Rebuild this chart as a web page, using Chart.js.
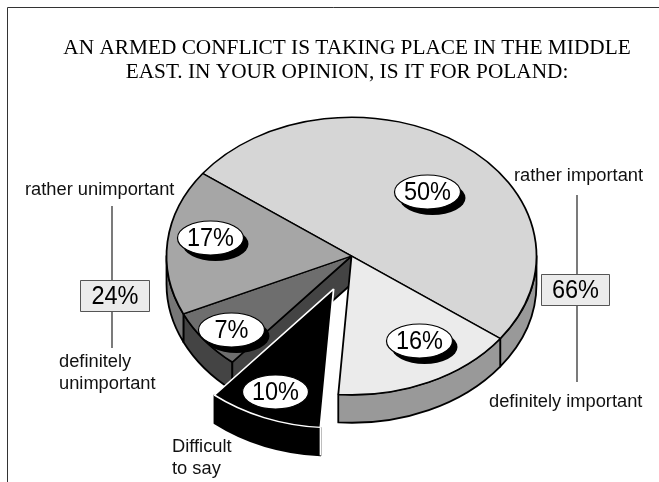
<!DOCTYPE html>
<html><head><meta charset="utf-8">
<style>html,body{margin:0;padding:0;background:#fff}canvas{display:block}</style>
<script src="https://cdn.jsdelivr.net/npm/chart.js@4"></script>
</head><body><canvas id="c" width="659" height="482"></canvas>
<script>
const categories = ["rather important","definitely important","Difficult to say","definitely unimportant","rather unimportant"];
const values = [50,16,10,7,17];
const topColors = ["#d6d6d6","#ebebeb","#000000","#6e6e6e","#a6a6a6"];
const wallColors = ["#999999","#999999","#000000","#444444","#777777"];
const borderColors = ["#000","#000","#fff","#000","#000"];
const groupTotals = [24,66];
const titleLines = ["AN ARMED CONFLICT IS TAKING PLACE IN THE MIDDLE","EAST. IN YOUR OPINION, IS IT FOR POLAND:"];

const SQUASH = 0.75, DEPTH = 28, EXPLODED = 2, EXPLODE_DIST = 47.5;

// label placement, as offsets from the pie centre
const bubbles = [[76,-64],[68,85],[-76,136],[-120,74],[-141,-18]];

function explodeShift(el,i){
  if(i!==EXPLODED) return [0,0];
  const m=(el.startAngle+el.endAngle)/2;
  return [Math.cos(m)*EXPLODE_DIST, Math.sin(m)*EXPLODE_DIST*SQUASH];
}
function drawWall(ctx,el,i){
  const s=Math.max(el.startAngle,0), e=Math.min(el.endAngle,Math.PI);
  if(e<=s) return;
  const [tx,ty]=explodeShift(el,i), cx=el.x+tx, cy=el.y+ty, r=el.outerRadius;
  ctx.beginPath();
  ctx.ellipse(cx,cy,r,r*SQUASH,0,s,e);
  ctx.ellipse(cx,cy+DEPTH,r,r*SQUASH,0,e,s,true);
  ctx.closePath();
  ctx.fillStyle=wallColors[i]; ctx.fill();
  ctx.strokeStyle="#000"; ctx.lineWidth=1.8; ctx.lineJoin="round"; ctx.stroke();
}
function drawCutFace(ctx,el,i){
  // the face left bare by the pulled-out slice
  const a=el.startAngle, r=el.outerRadius;
  const ax=el.x+Math.cos(a)*r, ay=el.y+Math.sin(a)*r*SQUASH;
  ctx.beginPath();
  ctx.moveTo(el.x,el.y); ctx.lineTo(ax,ay); ctx.lineTo(ax,ay+DEPTH); ctx.lineTo(el.x,el.y+DEPTH); ctx.closePath();
  ctx.fillStyle=wallColors[i]; ctx.fill();
  ctx.strokeStyle="#000"; ctx.lineWidth=1.8; ctx.stroke();
}
function drawTop(ctx,el,i){
  const [tx,ty]=explodeShift(el,i);
  ctx.save();
  ctx.translate(el.x+tx,el.y+ty); ctx.scale(1,SQUASH); ctx.translate(-el.x,-el.y);
  el.draw(ctx);
  ctx.restore();
}
function percentText(ctx,text,x,y){
  ctx.save();
  ctx.translate(x,y); ctx.scale(0.93,1);
  ctx.fillStyle="#000"; ctx.font='25.3px "Liberation Sans"'; ctx.textAlign="center";
  ctx.fillText(text,0,0);
  ctx.restore();
}
const pie3d = {
  id:"pie3d",
  beforeDatasetDraw(chart){
    const ctx=chart.ctx, arcs=chart.getDatasetMeta(0).data;
    const rest=arcs.map((a,i)=>i).filter(i=>i!==EXPLODED);
    rest.forEach(i=>drawWall(ctx,arcs[i],i));
    drawCutFace(ctx,arcs[EXPLODED+1],EXPLODED+1);
    rest.forEach(i=>drawTop(ctx,arcs[i],i));
    const el=arcs[EXPLODED];
    drawWall(ctx,el,EXPLODED);
    const [tx,ty]=explodeShift(el,EXPLODED), r=el.outerRadius;
    const ex=el.x+tx+Math.cos(el.startAngle)*r, ey=el.y+ty+Math.sin(el.startAngle)*r*SQUASH;
    ctx.strokeStyle="#fff"; ctx.lineWidth=1.5;
    ctx.beginPath(); ctx.moveTo(ex,ey); ctx.lineTo(ex,ey+DEPTH); ctx.stroke();
    drawTop(ctx,el,EXPLODED);
    return false;
  },
  afterDraw(chart){
    const ctx=chart.ctx, el=chart.getDatasetMeta(0).data[0];
    ctx.save();
    ctx.textBaseline="middle"; ctx.fillStyle="#000";
    // title
    ctx.font='21.3px "Liberation Serif"'; ctx.textAlign="center";
    ctx.fillText(titleLines[0],347,48);
    ctx.fillText(titleLines[1],347,72);
    // frame
    ctx.strokeStyle="#333"; ctx.lineWidth=1;
    ctx.beginPath(); ctx.moveTo(7.5,482); ctx.lineTo(7.5,7.5); ctx.lineTo(659,7.5); ctx.stroke();
    // bubbles
    values.forEach((v,i)=>{
      const x=el.x+bubbles[i][0], y=el.y+bubbles[i][1];
      if(i!==EXPLODED){ ctx.fillStyle="#000"; ctx.beginPath(); ctx.ellipse(x+5,y+6,33,17,0,0,Math.PI*2); ctx.fill(); }
      ctx.fillStyle="#fff"; ctx.strokeStyle="#000"; ctx.lineWidth=1.2;
      ctx.beginPath(); ctx.ellipse(x,y,33,17,0,0,Math.PI*2); ctx.fill(); ctx.stroke();
      percentText(ctx,v+"%",x,y+1);
    });
    // group boxes
    const groups=[[112,206,348,80,280,70,32],[577,195,382,541,274,69,32]];
    groups.forEach((g,i)=>{
      ctx.strokeStyle="#222"; ctx.lineWidth=1.2;
      ctx.beginPath(); ctx.moveTo(g[0],g[1]); ctx.lineTo(g[0],g[2]); ctx.stroke();
      ctx.fillStyle="#ebebeb"; ctx.strokeStyle="#555"; ctx.lineWidth=1;
      ctx.fillRect(g[3],g[4],g[5],g[6]); ctx.strokeRect(g[3]+.5,g[4]+.5,g[5]-1,g[6]-1);
      percentText(ctx,groupTotals[i]+"%",g[3]+g[5]/2,g[4]+g[6]/2+1);
    });
    // category labels
    ctx.font='18.3px "Liberation Sans"'; ctx.textAlign="left"; ctx.fillStyle="#111";
    ctx.fillText(categories[0],514,176);
    ctx.fillText(categories[1],489,402);
    ctx.fillText(categories[4],25,190);
    const du=categories[3].split(" "), ds=categories[2].split(" ");
    ctx.fillText(du[0],59,362); ctx.fillText(du[1],59,384);
    ctx.fillText(ds[0],172,447); ctx.fillText(ds.slice(1).join(" "),172,469);
    ctx.restore();
  }
};
new Chart(document.getElementById("c"),{
  type:"pie",
  data:{labels:categories,datasets:[{data:values,backgroundColor:topColors,borderColor:borderColors,borderWidth:1.8,borderAlign:"center"}]},
  options:{
    responsive:false,animation:false,rotation:-53.5,radius:185,
    layout:{padding:{left:44,right:0,top:30,bottom:0}},
    plugins:{legend:{display:false},tooltip:{enabled:false}},
    events:[]
  },
  plugins:[pie3d]
});
</script></body></html>
